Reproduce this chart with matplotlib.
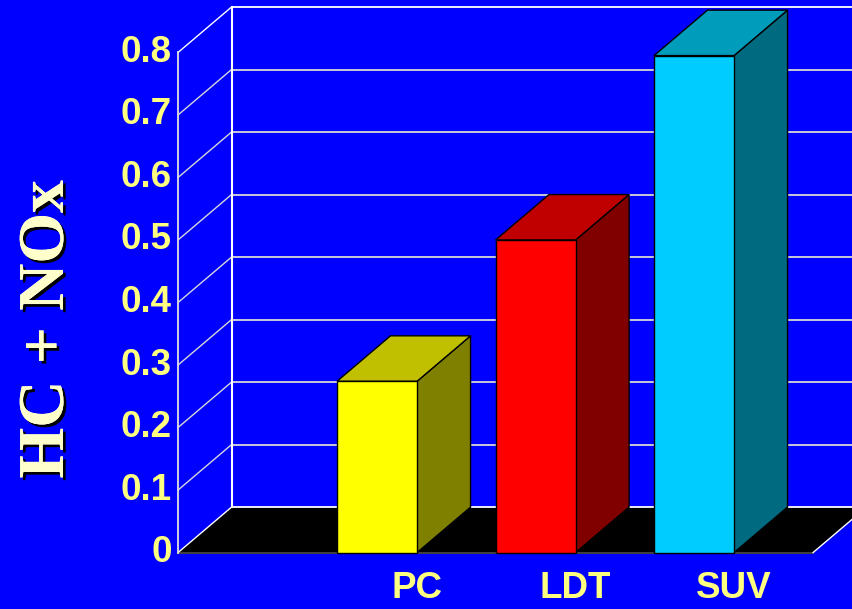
import matplotlib
matplotlib.use("Agg")
import matplotlib.pyplot as plt
import matplotlib.patheffects as pe
from matplotlib.patches import Polygon

# data
categories = ["PC", "LDT", "SUV"]
values = [0.274, 0.50, 0.795]
yticks = [0.0, 0.1, 0.2, 0.3, 0.4, 0.5, 0.6, 0.7, 0.8]

front_colors = ["#FFFF00", "#FF0000", "#00CCFF"]
top_colors = ["#C0C000", "#C00000", "#009CBC"]
side_colors = ["#808000", "#800000", "#006A80"]

BG = "#0000FF"
TICK_COLOR = "#FFFF80"
GRID = "#D8D8D8"

# oblique 3D frame (in data units)
dx, dy = 0.3375, 0.0727       # depth offset
wall_x = -1.2555              # front edge of left wall
floor_end = 2.751             # front-right corner of floor
bar_w = 0.505

fig = plt.figure(figsize=(8.53, 6.09), dpi=100, facecolor=BG)
ax = fig.add_axes([0, 0, 1, 1])
ax.set_facecolor(BG)
ax.set_xlim(-2.379, 3.003)
ax.set_ylim(-0.0903, 0.8839)
ax.axis("off")

xmax = ax.get_xlim()[1]
ytop = yticks[-1]

# floor
ax.add_patch(Polygon([(wall_x, 0), (floor_end, 0), (floor_end + dx, dy), (wall_x + dx, dy)],
                     closed=True, facecolor="black", edgecolor="none", zorder=1))
ax.plot([wall_x, floor_end], [0, 0], color="#404040", lw=1.5, zorder=1.5)
ax.plot([floor_end, floor_end + dx], [0, dy], color="white", lw=1, zorder=1.5)

# walls and gridlines
for v in yticks:
    ax.plot([wall_x, wall_x + dx], [v, v + dy], color=GRID if 0 < v < ytop else "white",
            lw=1, zorder=2)
    ax.plot([wall_x + dx, xmax], [v + dy, v + dy], color=GRID if 0 < v < ytop else "white",
            lw=1.3, zorder=2)
ax.plot([wall_x, wall_x], [0, ytop], color="#E0E0E0", lw=1.3, zorder=2)
ax.plot([wall_x + dx, wall_x + dx], [dy, ytop + dy], color="white", lw=1.5, zorder=2)

# bars
for i, v in enumerate(values):
    x0, x1 = i - bar_w / 2, i + bar_w / 2
    front = [(x0, 0), (x1, 0), (x1, v), (x0, v)]
    top = [(x0, v), (x1, v), (x1 + dx, v + dy), (x0 + dx, v + dy)]
    side = [(x1, 0), (x1 + dx, dy), (x1 + dx, v + dy), (x1, v)]
    for pts, c in [(side, side_colors[i]), (top, top_colors[i]), (front, front_colors[i])]:
        ax.add_patch(Polygon(pts, closed=True, facecolor=c, edgecolor="black",
                             lw=1, joinstyle="miter", zorder=3))
    ax.text(x1, -0.058, categories[i], color=TICK_COLOR, fontsize=26.5,
            fontweight="bold", family="Liberation Sans", ha="center", va="center")

# tick labels
for v in yticks:
    ax.text(wall_x - 0.04, v, f"{v:g}", color=TICK_COLOR, fontsize=26.5,
            fontweight="bold", family="Liberation Sans", ha="right", va="center")

# axis title
ax.text(-2.083, 0.357, "HC + NOx", rotation=90, color="#FFFFCC", fontsize=47,
        fontweight="bold", family="Liberation Serif", ha="center", va="center",
        path_effects=[pe.withSimplePatchShadow(offset=(2, -2), shadow_rgbFace="black", alpha=1),
                      pe.Normal()])

fig.savefig("out.png", dpi=100, facecolor=BG)
plt.close(fig)
